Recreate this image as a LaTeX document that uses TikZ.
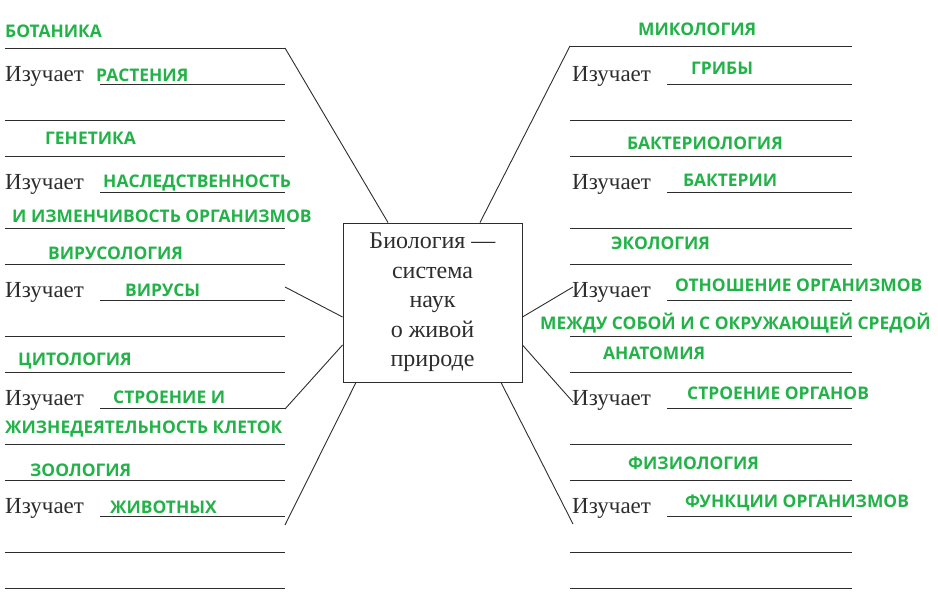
\documentclass[tikz,border=0pt]{standalone}
\usepackage{fontspec}
\setmainfont{Liberation Serif}
\newfontfamily\gfont{Open Sans}
\definecolor{grn}{RGB}{34,178,72}
\definecolor{ink}{RGB}{45,45,45}
\begin{document}
\begin{tikzpicture}[x=1pt,y=-1pt,
  ln/.style={draw=ink,line width=0.9pt},
  gt/.style={anchor=west,inner sep=0pt,text=grn,font=\gfont\bfseries\fontsize{17.4}{17}\selectfont},
  iz/.style={anchor=west,inner sep=0pt,text=ink,font=\fontsize{23}{23}\selectfont}]
\useasboundingbox (0,0) rectangle (938,604);
% left lines
\foreach \y in {48,120,156,228,264,336,372,444,480,552,588} \draw[ln] (5,\y) -- (285,\y);
\foreach \y in {84,192,300,408,516} {\draw[ln] (100,\y) -- (285,\y); \node[iz] at (5,\y-8) {Изучает};}
% right lines
\foreach \y in {46,120,156,228,264,336,372,444,480,552,588} \draw[ln] (570,\y) -- (852,\y);
\foreach \y in {84,192,300,408,516} {\draw[ln] (667,\y) -- (852,\y); \node[iz] at (572,\y-8) {Изучает};}
% box
\node[draw=ink,line width=0.9pt,minimum width=179pt,minimum height=159pt,align=center,text=ink,
  font=\fontsize{24}{29.5}\selectfont] (box) at (432.5,302.5)
  {Биология —\\система\\наук\\о живой\\природе};
\coordinate (l1) at (285,48); \coordinate (l2) at (285,287); \coordinate (l3) at (285,409); \coordinate (l4) at (285,525);
\coordinate (r1) at (570,46); \coordinate (r2) at (573,287); \coordinate (r3) at (573,402); \coordinate (r4) at (573,524);
\draw[ln] (l1) -- (box.north west -| 388,0);
\draw[ln] (l2) -- (box.west |- 0,317);
\draw[ln] (l3) -- (box.west |- 0,345);
\draw[ln] (l4) -- (box.south west -| 356,0);
\draw[ln] (r1) -- (box.north east -| 480,0);
\draw[ln] (r2) -- (box.east |- 0,317);
\draw[ln] (r3) -- (box.east |- 0,345);
\draw[ln] (r4) -- (box.south east -| 501,0);
% green labels
\node[gt] (a1) at (5,31) {БОТАНИКА};
\node[gt] (a2) at (96,75) {РАСТЕНИЯ};
\node[gt] (a3) at (45,138) {ГЕНЕТИКА};
\node[gt] (a4) at (103,183) {НАСЛЕДСТВЕННОСТЬ};
\node[gt] (a5) at (12,216) {И ИЗМЕНЧИВОСТЬ ОРГАНИЗМОВ};
\node[gt] (a6) at (48,253) {ВИРУСОЛОГИЯ};
\node[gt] (a7) at (125,290) {ВИРУСЫ};
\node[gt] (a8) at (18,361) {ЦИТОЛОГИЯ};
\node[gt] (a9) at (113,397) {СТРОЕНИЕ И};
\node[gt] (a10) at (5,429) {ЖИЗНЕДЕЯТЕЛЬНОСТЬ КЛЕТОК};
\node[gt] (a11) at (30,470) {ЗООЛОГИЯ};
\node[gt] (a12) at (110,507) {ЖИВОТНЫХ};
\node[gt] (b1) at (638,29) {МИКОЛОГИЯ};
\node[gt] (b2) at (691,68) {ГРИБЫ};
\node[gt] (b3) at (627,143) {БАКТЕРИОЛОГИЯ};
\node[gt] (b4) at (683,180) {БАКТЕРИИ};
\node[gt] (b5) at (611,243) {ЭКОЛОГИЯ};
\node[gt] (b6) at (675,285) {ОТНОШЕНИЕ ОРГАНИЗМОВ};
\node[gt] (b7) at (540,323) {МЕЖДУ СОБОЙ И С ОКРУЖАЮЩЕЙ СРЕДОЙ};
\node[gt] (b8) at (603,353) {АНАТОМИЯ};
\node[gt] (b9) at (687,393) {СТРОЕНИЕ ОРГАНОВ};
\node[gt] (b10) at (628,463) {ФИЗИОЛОГИЯ};
\node[gt] (b11) at (685,503) {ФУНКЦИИ ОРГАНИЗМОВ};
\end{tikzpicture}
\end{document}
